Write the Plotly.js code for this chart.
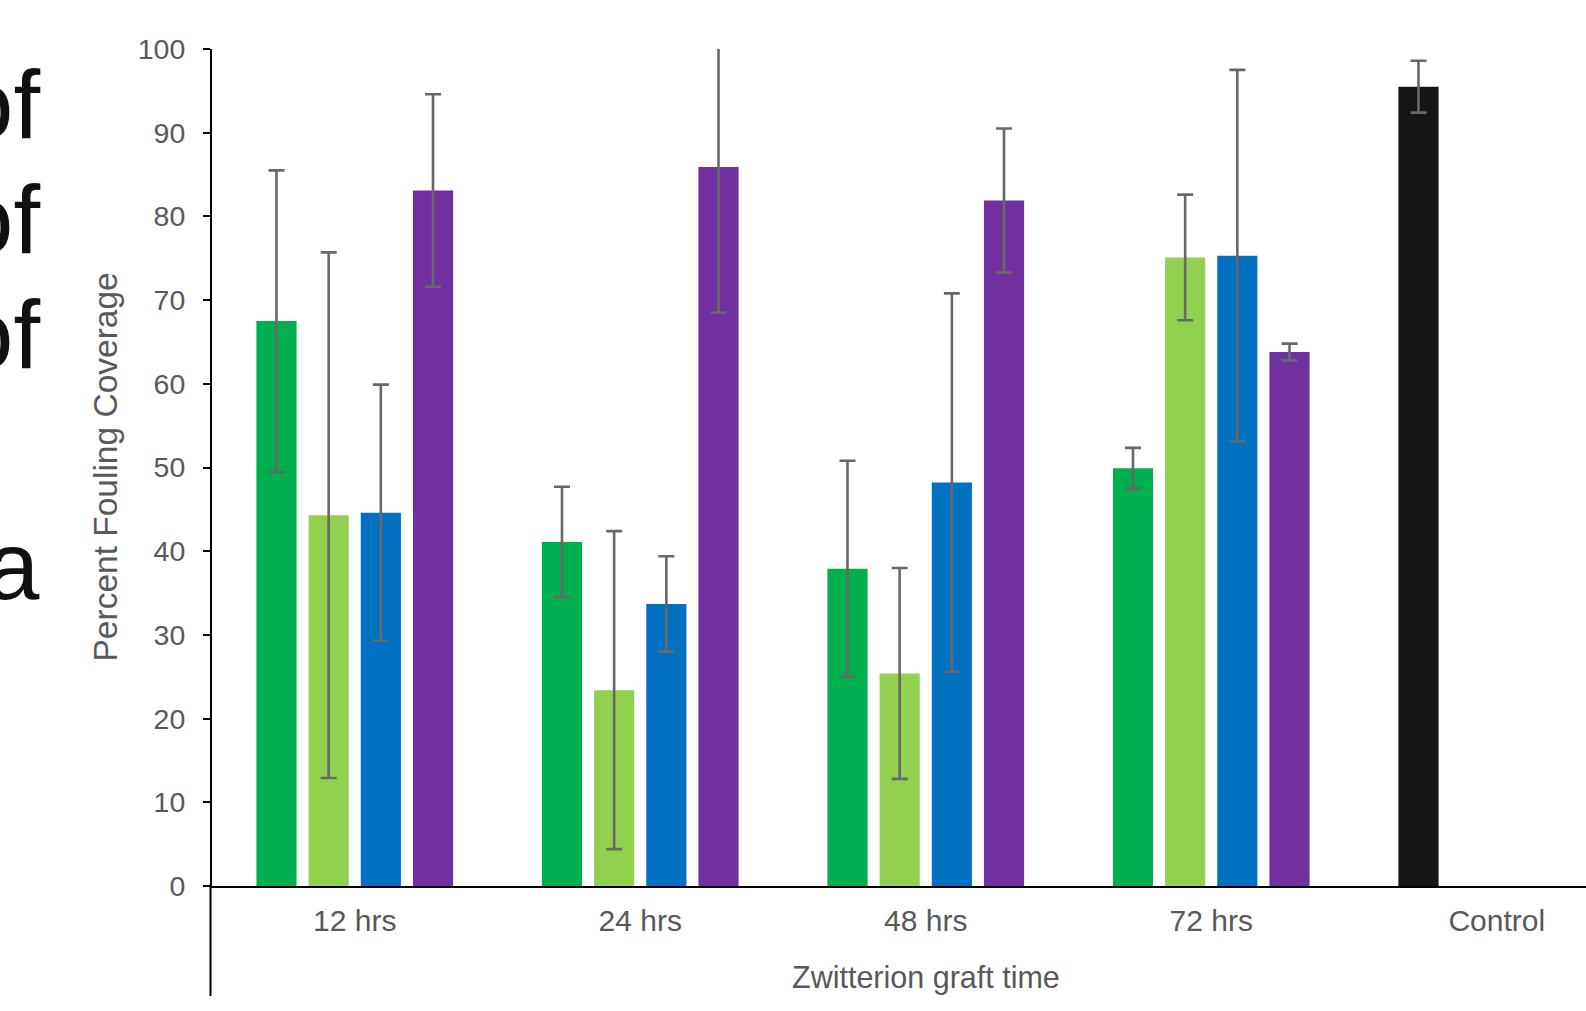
<!DOCTYPE html>
<html>
<head>
<meta charset="utf-8">
<script src="https://cdn.plot.ly/plotly-3.0.1.min.js"></script>
<style>
html,body{margin:0;padding:0;background:#fff;overflow:hidden;}
#chart{width:1586px;height:1011px;}
</style>
</head>
<body>
<div id="chart"></div>
<script>
// ---- data ----
const categories = ["12 hrs", "24 hrs", "48 hrs", "72 hrs", "Control"];
const series1 = [67.5, 41.1, 37.9, 49.9, 95.5];
const series1Err = [18.0, 6.6, 12.9, 2.45, 3.1];
const series2 = [44.3, 23.4, 25.4, 75.1, null];
const series2Err = [31.4, 19.0, 12.6, 7.5, null];
const series3 = [44.6, 33.7, 48.2, 75.3, null];
const series3Err = [15.3, 5.7, 22.6, 22.2, null];
const series4 = [83.1, 85.9, 81.9, 63.8, null];
const series4Err = [11.5, 17.4, 8.6, 1.0, null];
const yTicks = [0, 10, 20, 30, 40, 50, 60, 70, 80, 90, 100];
const sideText = ["of", "of", "of", "a"];

// ---- styling ----
const W = 1586, H = 1011;
const mL = 212, mT = 49, mB = 125, mR = 0;
const plotW = W - mL - mR, plotH = H - mT - mB;
const catW = 285.5;
const xMax = -0.5 + plotW / catW;
const gray = '#595959';
const errColor = '#686868';
const font = 'Liberation Sans, Arial, sans-serif';

function errOpt(arr) {
  return {type: 'data', array: arr, visible: true, color: errColor, thickness: 2.6, width: 8};
}
const s1Colors = categories.map(c => c === 'Control' ? '#151515' : '#00B050');

const traces = [
  {type: 'bar', name: 'Series 1', x: categories, y: series1, error_y: errOpt(series1Err), marker: {color: s1Colors}},
  {type: 'bar', name: 'Series 2', x: categories, y: series2, error_y: errOpt(series2Err), marker: {color: '#92D050'}},
  {type: 'bar', name: 'Series 3', x: categories, y: series3, error_y: errOpt(series3Err), marker: {color: '#0070C0'}},
  {type: 'bar', name: 'Series 4', x: categories, y: series4, error_y: errOpt(series4Err), marker: {color: '#7030A0'}}
];

function px2paperX(px) { return (px - mL) / plotW; }
function px2paperY(py) { return (H - mB - py) / plotH; }

const annotations = [
  {text: 'Zwitterion graft time', xref: 'x', x: 2, yref: 'paper', y: px2paperY(977),
   xanchor: 'center', yanchor: 'middle', showarrow: false,
   font: {family: font, size: 30.5, color: gray}},
  {text: 'Percent Fouling Coverage', xref: 'paper', x: px2paperX(105), yref: 'paper', y: 0.5,
   xanchor: 'center', yanchor: 'middle', textangle: -90, showarrow: false,
   font: {family: font, size: 33.5, color: gray}}
];
const sideY = [104, 219, 334, 565];
sideText.forEach((t, i) => {
  annotations.push({text: t, xref: 'paper', x: px2paperX(42), yref: 'paper', y: px2paperY(sideY[i]),
    xanchor: 'right', yanchor: 'middle', showarrow: false,
    font: {family: font, size: 96, color: '#111111'}});
});

const layout = {
  width: W, height: H,
  margin: {l: mL, r: mR, t: mT, b: mB, pad: 0},
  paper_bgcolor: '#ffffff', plot_bgcolor: '#ffffff',
  showlegend: false,
  barmode: 'group',
  bargap: 0.269,
  bargroupgap: 0.23,
  xaxis: {
    type: 'category', range: [-0.5, xMax], fixedrange: true,
    showline: true, linecolor: '#000000', linewidth: 2,
    ticks: '', showgrid: false, zeroline: false,
    tickfont: {family: font, size: 30, color: gray},
    ticklabelstandoff: 7
  },
  yaxis: {
    range: [0, 100], fixedrange: true,
    tickvals: yTicks,
    showline: true, linecolor: '#000000', linewidth: 2,
    ticks: 'outside', ticklen: 7, tickwidth: 2, tickcolor: '#000000',
    showgrid: false, zeroline: false,
    tickfont: {family: font, size: 28.5, color: gray},
    ticklabelstandoff: 12
  },
  shapes: [
    {type: 'line', xref: 'paper', yref: 'paper', x0: px2paperX(mL - 1.5), x1: px2paperX(mL - 1.5), y0: 0, y1: px2paperY(996),
     line: {color: '#000000', width: 2}}
  ],
  annotations: annotations
};

Plotly.newPlot('chart', traces, layout, {displayModeBar: false, staticPlot: true});
</script>
</body>
</html>
